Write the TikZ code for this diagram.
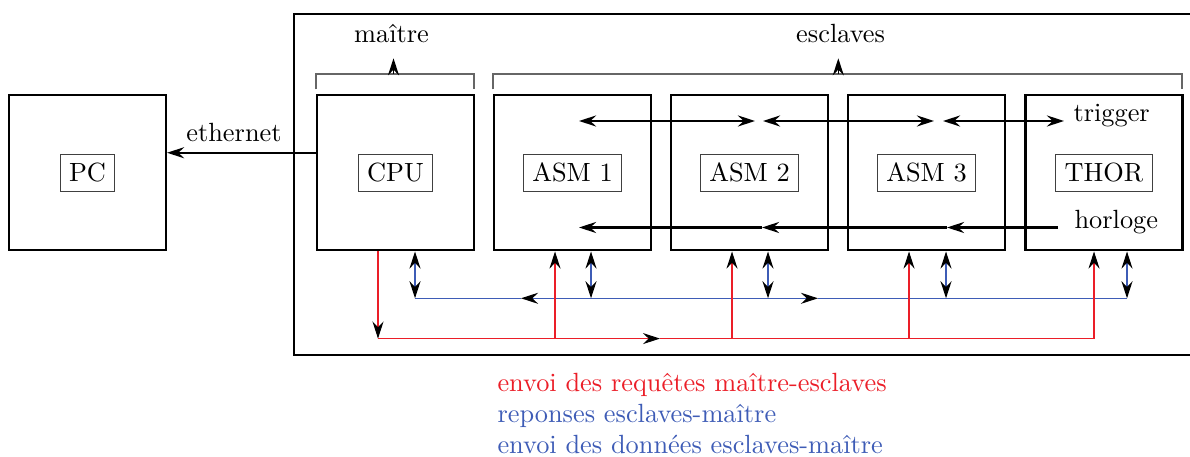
\documentclass[tikz,border=0pt]{standalone}
\usetikzlibrary{arrows.meta,calc}
\definecolor{myred}{RGB}{235,30,40}
\definecolor{myblue}{RGB}{62,92,182}
\begin{document}
\begin{tikzpicture}[x=0.3797pt,y=-0.3797pt,
  tip/.style={-{Stealth[length=6.5pt,width=4.2pt,inset=2.2pt,color=black]}},
  dtip/.style={{Stealth[length=6.5pt,width=4.2pt,inset=2.2pt,color=black]}-{Stealth[length=6.5pt,width=4.2pt,inset=2.2pt,color=black]}},
  unit/.style={draw,line width=0.8pt,minimum width=59.6pt,minimum height=59pt,inner sep=0pt},
  lab/.style={draw=black!75,line width=0.4pt,inner sep=3.33pt},
  brack/.style={draw=black!60,line width=0.5pt},
  req/.style={myred,line width=0.4pt},
  rep/.style={myblue,line width=0.45pt},
  sig/.style={line width=0.8pt},
  txt/.style={inner sep=0pt}]
\useasboundingbox (0,0) rectangle (1190,457);
% system frame
\draw[line width=0.8pt] (1210,14.3) -- (294,14.3) -- (294,355) -- (1210,355);
% units
\node[unit] (pc) at (87.5,172.75) {};
\node[lab] (pcl) at (pc) {PC};
\node[unit] (cpu) at (395.5,172.75) {};
\node[lab] (cpul) at (cpu) {CPU};
\node[unit] (asm1) at (572.5,172.75) {};
\node[lab] (asm1l) at (asm1) {ASM 1};
\node[unit] (asm2) at (749.5,172.75) {};
\node[lab] (asm2l) at (asm2) {ASM 2};
\node[unit] (asm3) at (926.5,172.75) {};
\node[lab] (asm3l) at (asm3) {ASM 3};
\node[unit] (thor) at (1104,172.75) {};
\node[lab] (thorl) at (thor) {THOR};
% brackets
\node[txt,anchor=base] (maitre) at (391.5,42.7) {maître};
\node[txt,anchor=base] (esclaves) at (840.6,42.5) {esclaves};
\draw[brack] (316,89.3) -- (316,74) -- (474,74) -- (474,89.3);
\draw[brack] (493,89.3) -- (493,74) -- (1182,74) -- (1182,89.3);
\coordinate (bm) at (393.5,74);
\coordinate (bmt) at (393.5,58.3);
\coordinate (bs) at (838.3,74);
\coordinate (bst) at (838.3,58.3);
\draw[line width=0.5pt,tip] (bm) -- (bmt);
\draw[line width=0.5pt,tip] (bs) -- (bst);
% ethernet
\draw[line width=0.7pt,tip] ($(cpu.west)+(0,-20)$) -- ($(pc.east)+(0,-20)$);
\node[txt,anchor=base] (eth) at (234,141.7) {ethernet};
% trigger
\coordinate (t1) at (579,121);
\coordinate (t2) at (755,121);
\coordinate (t3) at (763,121);
\coordinate (t4) at (934,121);
\coordinate (t5) at (943,121);
\coordinate (t6) at (1064,121);
\draw[sig,dtip] (t1) -- (t2);
\draw[sig,dtip] (t3) -- (t4);
\draw[sig,dtip] (t5) -- (t6);
\node[txt,anchor=base west] (trig) at (1073,122) {trigger};
% horloge
\coordinate (h0) at (1058,227.5);
\coordinate (h1) at (947,227.5);
\coordinate (h2) at (762,227.5);
\coordinate (h3) at (579,227.5);
\draw[sig,tip] (h0) -- (h1);
\draw[sig,tip] (h1) -- (h2);
\draw[sig,tip] (h2) -- (h3);
\node[txt,anchor=base west] (horl) at (1074,228.5) {horloge};
% blue bus (responses)
\coordinate (bc) at (415,298.3);
\coordinate (b1) at (591,298.3);
\coordinate (b2) at (768,298.3);
\coordinate (b3) at (946,298.3);
\coordinate (b4) at (1127,298.3);
\coordinate (bma) at (521,298.3);
\coordinate (bmb) at (818,298.3);
\draw[rep] (bc) -- (bma);
\draw[rep,dtip] (bma) -- (bmb);
\draw[rep] (bmb) -- (b4);
\draw[rep,dtip] (cpu.south -| bc) -- (bc);
\draw[rep,dtip] (asm1.south -| b1) -- (b1);
\draw[rep,dtip] (asm2.south -| b2) -- (b2);
\draw[rep,dtip] (asm3.south -| b3) -- (b3);
\draw[rep,dtip] (thor.south -| b4) -- (b4);
% red bus (requests)
\coordinate (rc) at (378,338.6);
\coordinate (r1) at (555,338.6);
\coordinate (r2) at (732,338.6);
\coordinate (r3) at (909,338.6);
\coordinate (r4) at (1094,338.6);
\coordinate (rm) at (660,338.6);
\draw[req,tip] (cpu.south -| rc) -- (rc);
\draw[req,tip] (rc) -- (rm);
\draw[req] (rm) -- (r4);
\draw[req,tip] (r1) -- (asm1.south -| r1);
\draw[req,tip] (r2) -- (asm2.south -| r2);
\draw[req,tip] (r3) -- (asm3.south -| r3);
\draw[req,tip] (r4) -- (thor.south -| r4);
% legend
\node[txt,anchor=base west,text=myred] (leg1) at (497,392) {envoi des requêtes maître-esclaves};
\node[txt,anchor=base west,text=myblue] (leg2) at (497,422.8) {reponses esclaves-maître};
\node[txt,anchor=base west,text=myblue] (leg3) at (497,453.5) {envoi des données esclaves-maître};
\end{tikzpicture}
\end{document}
